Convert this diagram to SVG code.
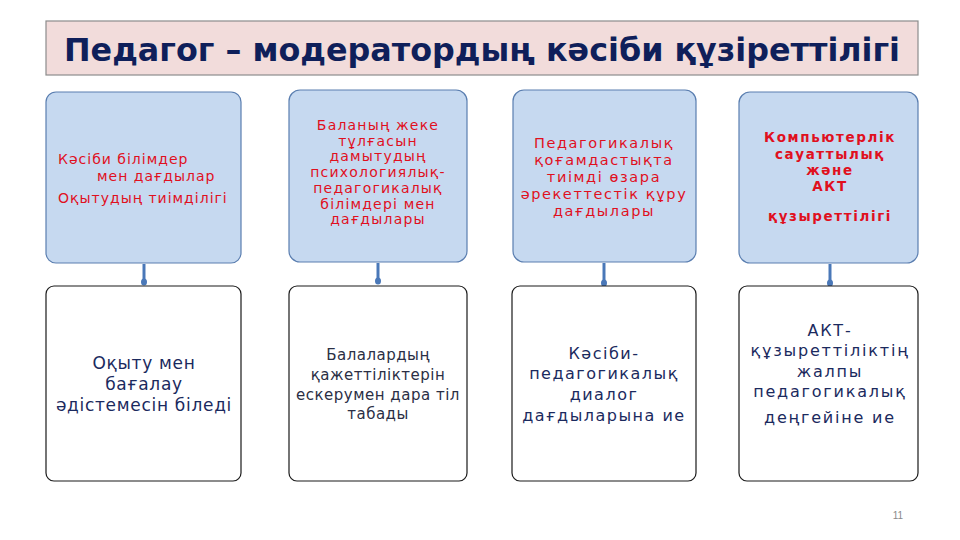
<svg xmlns="http://www.w3.org/2000/svg" width="960" height="540" viewBox="0 0 960 540">
<defs>
<style>
.top{fill:#c6d9f0;stroke:#5a7eb0;stroke-width:1.2}
.bot{fill:#ffffff;stroke:#1a1a1a;stroke-width:1.2}
.red{font-family:"DejaVu Sans","Liberation Sans",sans-serif;font-size:14px;letter-spacing:1.2px;fill:#e0101e;text-anchor:middle}
.red3{font-family:"DejaVu Sans","Liberation Sans",sans-serif;font-size:14.5px;letter-spacing:1.6px;fill:#e0101e;text-anchor:middle}
.redb{font-family:"DejaVu Sans","Liberation Sans",sans-serif;font-size:13.5px;letter-spacing:1.6px;font-weight:bold;fill:#e0101e;text-anchor:middle}
.nav{font-family:"DejaVu Sans","Liberation Sans",sans-serif;font-size:17px;letter-spacing:0.7px;fill:#1b2a5e;text-anchor:middle}
.nav2{font-family:"DejaVu Sans","Liberation Sans",sans-serif;font-size:15px;letter-spacing:0.5px;fill:#2b2f45;text-anchor:middle}
.nav3{font-family:"DejaVu Sans","Liberation Sans",sans-serif;font-size:16px;letter-spacing:1.5px;fill:#1b2a5e;text-anchor:middle}
.nav4{font-family:"DejaVu Sans","Liberation Sans",sans-serif;font-size:16px;letter-spacing:1.8px;fill:#1b2a5e;text-anchor:middle}
.conn{stroke:#4a78b8;stroke-width:3;fill:none}
.dot{fill:#4a78b8}
</style>
</defs>
<rect width="960" height="540" fill="#ffffff"/>
<g id="title">
<rect x="46" y="21" width="872" height="54" fill="#f2dcdb" stroke="#8c8c8c" stroke-width="1.2"/>
<text x="482" y="61" font-family="DejaVu Sans,Liberation Sans,sans-serif" font-size="32" font-weight="bold" fill="#0f1f5a" text-anchor="middle" textLength="836" lengthAdjust="spacingAndGlyphs">Педагог – модератордың кәсіби құзіреттілігі</text>
</g>
<g id="connectors">
<line class="conn" x1="144" y1="264" x2="144" y2="281"/><ellipse class="dot" cx="144" cy="282" rx="3" ry="3.5"/>
<line class="conn" x1="378" y1="263" x2="378" y2="280"/><ellipse class="dot" cx="378" cy="281" rx="3" ry="3.5"/>
<line class="conn" x1="604" y1="263" x2="604" y2="282"/><ellipse class="dot" cx="604" cy="283" rx="3" ry="3.5"/>
<line class="conn" x1="830" y1="264" x2="830" y2="282"/><ellipse class="dot" cx="830" cy="283" rx="3" ry="3.5"/>
</g>
<g id="top1">
<rect class="top" x="46" y="92" width="195" height="171" rx="10"/>
<text x="58" y="164" font-family="DejaVu Sans,Liberation Sans,sans-serif" font-size="14" letter-spacing="1" fill="#e0101e">Кәсіби білімдер</text>
<text x="97" y="181" font-family="DejaVu Sans,Liberation Sans,sans-serif" font-size="14" letter-spacing="1" fill="#e0101e">мен дағдылар</text>
<text x="58" y="203" font-family="DejaVu Sans,Liberation Sans,sans-serif" font-size="14" letter-spacing="1" fill="#e0101e">Оқытудың тиімділігі</text>
</g>
<g id="top2">
<rect class="top" x="289" y="90" width="178" height="172" rx="11"/>
<text class="red" x="378" y="130">Баланың жеке</text>
<text class="red" x="378" y="146">тұлғасын</text>
<text class="red" x="378" y="161">дамытудың</text>
<text class="red" x="378" y="177">психологиялық-</text>
<text class="red" x="378" y="193">педагогикалық</text>
<text class="red" x="378" y="209">білімдері мен</text>
<text class="red" x="378" y="224">дағдылары</text>
</g>
<g id="top3">
<rect class="top" x="513" y="90" width="183" height="172" rx="11"/>
<text class="red3" x="604" y="148">Педагогикалық</text>
<text class="red3" x="604" y="165">қоғамдастықта</text>
<text class="red3" x="604" y="182">тиімді өзара</text>
<text class="red3" x="604" y="199">әрекеттестік құру</text>
<text class="red3" x="604" y="216">дағдылары</text>
</g>
<g id="top4">
<rect class="top" x="739" y="92" width="179" height="171" rx="11"/>
<text class="redb" x="830" y="142">Компьютерлік</text>
<text class="redb" x="830" y="159">сауаттылық</text>
<text class="redb" x="830" y="175">және</text>
<text class="redb" x="830" y="191">АКТ</text>
<text class="redb" x="830" y="221">құзыреттілігі</text>
</g>
<g id="bot1">
<rect class="bot" x="46" y="286" width="195" height="195" rx="8"/>
<text class="nav" x="144" y="369">Оқыту мен</text>
<text class="nav" x="144" y="390">бағалау</text>
<text class="nav" x="144" y="411">әдістемесін біледі</text>
</g>
<g id="bot2">
<rect class="bot" x="289" y="286" width="178" height="195" rx="8"/>
<text class="nav2" x="378" y="360">Балалардың</text>
<text class="nav2" x="378" y="380">қажеттіліктерін</text>
<text class="nav2" x="378" y="400">ескерумен дара тіл</text>
<text class="nav2" x="378" y="419">табады</text>
</g>
<g id="bot3">
<rect class="bot" x="512" y="286" width="184" height="195" rx="8"/>
<text class="nav3" x="604" y="359">Кәсіби-</text>
<text class="nav3" x="604" y="379">педагогикалық</text>
<text class="nav3" x="604" y="400">диалог</text>
<text class="nav3" x="604" y="421">дағдыларына ие</text>
</g>
<g id="bot4">
<rect class="bot" x="739" y="286" width="179" height="195" rx="8"/>
<text class="nav4" x="830" y="336">АКТ-</text>
<text class="nav4" x="830" y="356">құзыреттіліктің</text>
<text class="nav4" x="830" y="377">жалпы</text>
<text class="nav4" x="830" y="397">педагогикалық</text>
<text class="nav4" x="830" y="423">деңгейіне ие</text>
</g>
<text x="898" y="519" font-family="Liberation Sans,sans-serif" font-size="10" fill="#8a8a8a" text-anchor="middle">11</text>
</svg>
